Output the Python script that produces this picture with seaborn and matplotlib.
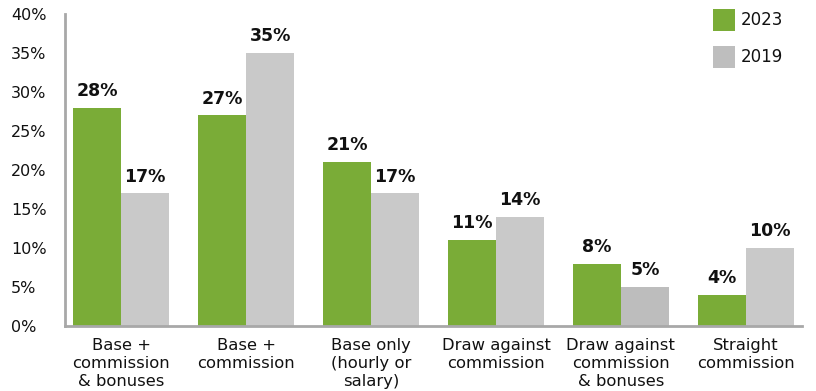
import matplotlib
matplotlib.use("Agg")
import matplotlib.pyplot as plt
import seaborn as sns
import pandas as pd
from matplotlib.patches import Rectangle

categories = ["Base +\ncommission\n& bonuses", "Base +\ncommission", "Base only\n(hourly or\nsalary)",
              "Draw against\ncommission", "Draw against\ncommission\n& bonuses", "Straight\ncommission"]
values_2023 = [28, 27, 21, 11, 8, 4]
values_2019 = [17, 35, 17, 14, 5, 10]
years = ["2023", "2019"]
yticks = [0, 5, 10, 15, 20, 25, 30, 35, 40]

sns.set_theme(style="white")
plt.rcParams["font.family"] = ["DejaVu Sans"]

df = pd.DataFrame({
    "category": categories * 2,
    "value": values_2023 + values_2019,
    "year": [years[0]] * len(categories) + [years[1]] * len(categories),
})

green = "#7aac37"
grey = "#c9c9c9"
legend_grey = "#bebebe"
text_color = "#111111"

W, H = 816, 391
fig = plt.figure(figsize=(W / 100, H / 100), dpi=100)
ax = fig.add_axes([65 / W, 65 / H, 737 / W, 312 / H])
sns.barplot(data=df, x="category", y="value", hue="year", hue_order=years,
            palette=[green, grey], width=0.768, saturation=1, linewidth=0,
            ax=ax, legend=False)

# the 2019 bar of the fifth group is shaded a touch darker
ax.containers[1][4].set_facecolor("#bdbdbd")

for cont in ax.containers:
    for bar in cont:
        h = bar.get_height()
        ax.text(bar.get_x() + bar.get_width() / 2, h + 1.0, f"{h:.0f}%",
                ha="center", va="bottom", fontsize=12.5, fontweight="bold", color=text_color)

ax.set_ylim(0, 40)
ax.set_xlim(-0.45, 5.45)
ax.set_yticks(yticks)
ax.set_yticklabels([f"{t}%" for t in yticks], fontsize=11.5, color=text_color)
ax.set_xticks(range(len(categories)))
ax.set_xticklabels(categories, fontsize=11.8, color=text_color, linespacing=1.27)
ax.tick_params(axis="x", length=0, pad=8.5)
ax.tick_params(axis="y", length=0, pad=39)
for lab in ax.get_yticklabels():
    lab.set_horizontalalignment("left")
ax.set_xlabel("")
ax.set_ylabel("")
for s in ["top", "right"]:
    ax.spines[s].set_visible(False)
for s in ["left", "bottom"]:
    ax.spines[s].set_color("#a8a8a8")
    ax.spines[s].set_linewidth(2)

# legend swatches and labels, placed in figure pixels
for i, (yr, col) in enumerate(zip(years, [green, legend_grey])):
    top = 9 + 37 * i
    fig.patches.append(Rectangle((713 / W, 1 - (top + 22) / H), 22 / W, 22 / H,
                                 transform=fig.transFigure, facecolor=col, edgecolor="none"))
    fig.text(741 / W, 1 - (top + 11) / H, yr, fontsize=12, color=text_color,
             ha="left", va="center")

fig.savefig("out.png", dpi=100)
